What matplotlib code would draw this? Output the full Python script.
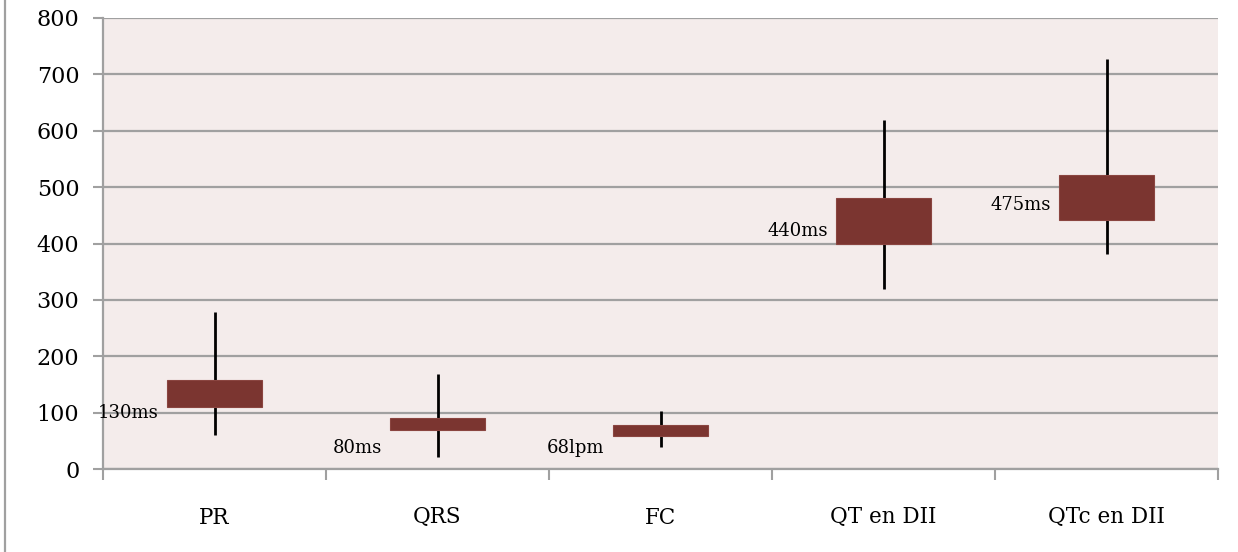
import numpy as np
import matplotlib.pyplot as plt
from matplotlib.lines import Line2D

# ── Data ──────────────────────────────────────────────────────────────
categories = ["PR", "QRS", "FC", "QT en DII", "QTc en DII"]
whisker_low  = [60, 22, 39, 320, 381]
box_low      = [110, 69, 58, 399, 442]
box_high     = [157, 91, 78, 481, 521]
whisker_high = [279, 169, 102, 619, 727]
labels       = ["130ms", "80ms", "68lpm", "440ms", "475ms"]
label_y      = [100, 38, 38, 423, 468]
yticks       = [0, 100, 200, 300, 400, 500, 600, 700, 800]

plt.rcParams["font.family"] = ["DejaVu Serif"]

fig = plt.figure(figsize=(12.38, 5.52), dpi=100)
ax = fig.add_axes([103/1238, 1 - 469/552, 1115/1238, 451/552])
ax.set_facecolor("#F4ECEB")

x = np.arange(len(categories))
width = 0.43

# whiskers then boxes
ax.vlines(x, whisker_low, whisker_high, color="black", linewidth=2, zorder=3)
ax.bar(x, np.array(box_high) - np.array(box_low), width, bottom=box_low,
       color="#7B3530", edgecolor="#8A4540", linewidth=0.8, zorder=4)

for xi, lab, ly in zip(x, labels, label_y):
    ax.text(xi - width/2 - 0.035, ly, lab, ha="right", va="center",
            fontsize=13, color="black", zorder=5)

ax.set_xlim(-0.5, len(categories) - 0.5)
ax.set_ylim(0, 800)
ax.set_yticks(yticks)
ax.set_yticklabels([str(v) for v in yticks], fontsize=16)
ax.yaxis.grid(True, color="#A0A0A0", linewidth=1.6, zorder=0)
ax.set_axisbelow(True)

ax.set_xticks(np.arange(len(categories) + 1) - 0.5)
ax.set_xticklabels([])
ax.set_xticks(x, minor=True)
ax.set_xticklabels(categories, minor=True, fontsize=15.5)
ax.tick_params(axis="x", which="major", length=8, width=1.5, color="#A0A0A0")
ax.tick_params(axis="x", which="minor", length=0, pad=27)
ax.tick_params(axis="y", length=7, width=1.5, color="#A0A0A0", pad=10)

for s in ["top", "right"]:
    ax.spines[s].set_visible(False)
for s in ["left", "bottom"]:
    ax.spines[s].set_color("#A0A0A0")
    ax.spines[s].set_linewidth(1.6)

# chart-area border on the left edge
fig.add_artist(Line2D([5/1238, 5/1238], [0, 1], color="#A0A0A0",
                      linewidth=1.6, transform=fig.transFigure))

plt.savefig("out.png", dpi=100)
